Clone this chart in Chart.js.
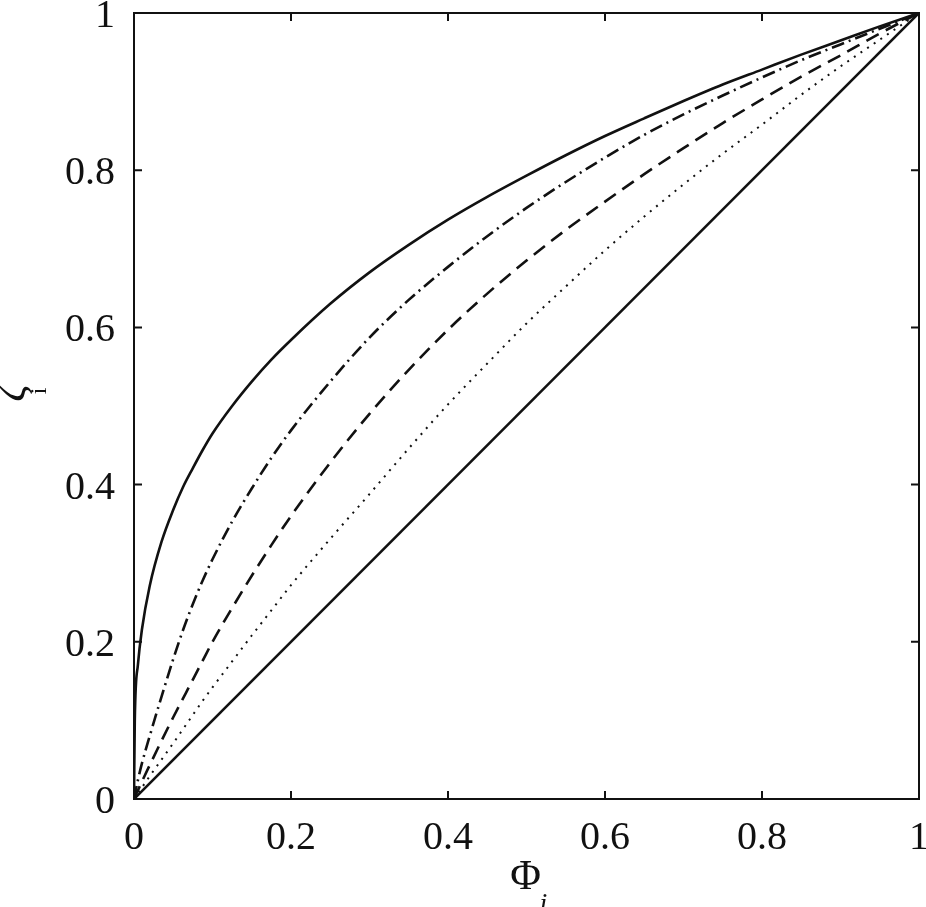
<!DOCTYPE html>
<html>
<head>
<meta charset="utf-8">
<script src="https://cdn.jsdelivr.net/npm/chart.js@4.4.1/dist/chart.umd.min.js"></script>
<style>
  html, body { margin: 0; padding: 0; background: #fff; }
  #wrap { width: 926px; height: 907px; position: relative; }
</style>
</head>
<body>
<div id="wrap"><canvas id="c"></canvas></div>
<script>
// ---- data ----
const phi          = [0, 0.001, 0.005, 0.01, 0.02, 0.035, 0.05, 0.0625, 0.075, 0.0875, 0.1, 0.125, 0.15, 0.175, 0.2, 0.25, 0.3, 0.35, 0.4, 0.45, 0.5, 0.55, 0.6, 0.65, 0.7, 0.75, 0.8, 0.85, 0.9, 0.95, 1];
const zetaSolidTop = [0, 0.10, 0.171, 0.215, 0.271, 0.327, 0.368, 0.397, 0.421, 0.444, 0.465, 0.500, 0.531, 0.559, 0.584, 0.630, 0.670, 0.705, 0.737, 0.766, 0.793, 0.819, 0.8435, 0.866, 0.888, 0.909, 0.928, 0.947, 0.965, 0.983, 1];
const zetaDashDot  = [0, 0.005, 0.024, 0.045, 0.08, 0.13, 0.178, 0.215, 0.248, 0.278, 0.305, 0.353, 0.395, 0.434, 0.469, 0.531, 0.587, 0.635, 0.677, 0.716, 0.752, 0.785, 0.816, 0.845, 0.871, 0.895, 0.918, 0.940, 0.960, 0.980, 1];
const zetaDashed   = [0, 0.0023, 0.011, 0.022, 0.043, 0.074, 0.104, 0.128, 0.152, 0.176, 0.200, 0.243, 0.284, 0.323, 0.360, 0.428, 0.490, 0.546, 0.597, 0.643, 0.685, 0.724, 0.760, 0.795, 0.828, 0.860, 0.890, 0.919, 0.946, 0.974, 1];
const zetaDotted   = [0, 0.0015, 0.0073, 0.0145, 0.029, 0.05, 0.071, 0.089, 0.107, 0.125, 0.142, 0.175, 0.208, 0.240, 0.272, 0.331, 0.388, 0.446, 0.502, 0.554, 0.605, 0.652, 0.698, 0.741, 0.782, 0.821, 0.858, 0.896, 0.932, 0.966, 1];
const phiDiag  = [0, 1];
const zetaDiag = [0, 1];
const tickValues = [0, 0.2, 0.4, 0.6, 0.8, 1];
const tickLabels = ["0", "0.2", "0.4", "0.6", "0.8", "1"];

const pts = (xs, ys) => xs.map((v, i) => ({ x: v, y: ys[i] }));

const FONT = "'Liberation Serif', 'Times New Roman', serif";

function lineDs(data, dash, width) {
  return {
    data: data,
    showLine: true,
    borderColor: '#111',
    borderWidth: width,
    borderDash: dash,
    borderCapStyle: 'butt',
    pointRadius: 0,
    pointHoverRadius: 0,
    fill: false,
    cubicInterpolationMode: 'monotone'
  };
}

const frame = {
  id: 'frame',
  afterDatasetsDraw(chart) {
    const { ctx, chartArea: a, scales: { x, y } } = chart;
    ctx.save();
    ctx.strokeStyle = '#111';
    ctx.lineWidth = 2;
    ctx.strokeRect(a.left, a.top, a.right - a.left, a.bottom - a.top);
    const L = 8;
    ctx.beginPath();
    tickValues.forEach(v => {
      const px = x.getPixelForValue(v);
      ctx.moveTo(px, a.bottom); ctx.lineTo(px, a.bottom - L);
      ctx.moveTo(px, a.top); ctx.lineTo(px, a.top + L);
      const py = y.getPixelForValue(v);
      ctx.moveTo(a.left, py); ctx.lineTo(a.left + L, py);
      ctx.moveTo(a.right, py); ctx.lineTo(a.right - L, py);
    });
    ctx.stroke();

    // tick labels
    ctx.fillStyle = '#111';
    ctx.font = "40px " + FONT;
    ctx.textBaseline = 'alphabetic';
    ctx.textAlign = 'center';
    tickValues.forEach((v, i) => {
      ctx.fillText(tickLabels[i], x.getPixelForValue(v), a.bottom + 50);
    });
    ctx.textAlign = 'right';
    tickValues.forEach((v, i) => {
      ctx.fillText(tickLabels[i], a.left - 19, y.getPixelForValue(v) + 14);
    });

    // axis titles
    ctx.textAlign = 'center';
    ctx.font = "42px " + FONT;
    const cx = (a.left + a.right) / 2;
    ctx.fillText('Φ', cx - 1, 889);
    ctx.font = "italic 28px " + FONT;
    ctx.fillText('i', cx + 17, 912);

    ctx.save();
    ctx.translate(14, 393);
    ctx.rotate(-Math.PI / 2);
    ctx.font = "italic 42px " + FONT;
    ctx.textBaseline = 'middle';
    ctx.fillText('ζ', 0, 0);
    ctx.restore();
    ctx.save();
    ctx.translate(40, 391);
    ctx.rotate(-Math.PI / 2);
    ctx.font = "24px " + FONT;
    ctx.textBaseline = 'middle';
    ctx.fillText('i', 0, 0);
    ctx.restore();
    ctx.restore();
  }
};

const setTicks = s => { s.ticks = tickValues.map(v => ({ value: v })); };

new Chart(document.getElementById('c'), {
  type: 'scatter',
  data: {
    datasets: [
      lineDs(pts(phi, zetaSolidTop), [], 2.6),
      lineDs(pts(phi, zetaDashDot), [13, 5, 2, 5], 2.6),
      lineDs(pts(phi, zetaDashed), [14, 8], 2.6),
      lineDs(pts(phi, zetaDotted), [2, 6], 2),
      lineDs(pts(phiDiag, zetaDiag), [], 2.6)
    ]
  },
  options: {
    responsive: true,
    maintainAspectRatio: false,
    animation: false,
    devicePixelRatio: 1,
    layout: { autoPadding: false, padding: { top: 13, right: 7, left: 0, bottom: 0 } },
    plugins: { legend: { display: false }, tooltip: { enabled: false } },
    events: [],
    scales: {
      x: {
        type: 'linear', min: 0, max: 1,
        afterBuildTicks: setTicks,
        afterFit: s => { s.height = 108; },
        grid: { display: false, drawTicks: false },
        border: { display: false },
        ticks: { display: false }
      },
      y: {
        type: 'linear', min: 0, max: 1,
        afterBuildTicks: setTicks,
        afterFit: s => { s.width = 134; },
        grid: { display: false, drawTicks: false },
        border: { display: false },
        ticks: { display: false }
      }
    }
  },
  plugins: [frame]
});
</script>
</body>
</html>
